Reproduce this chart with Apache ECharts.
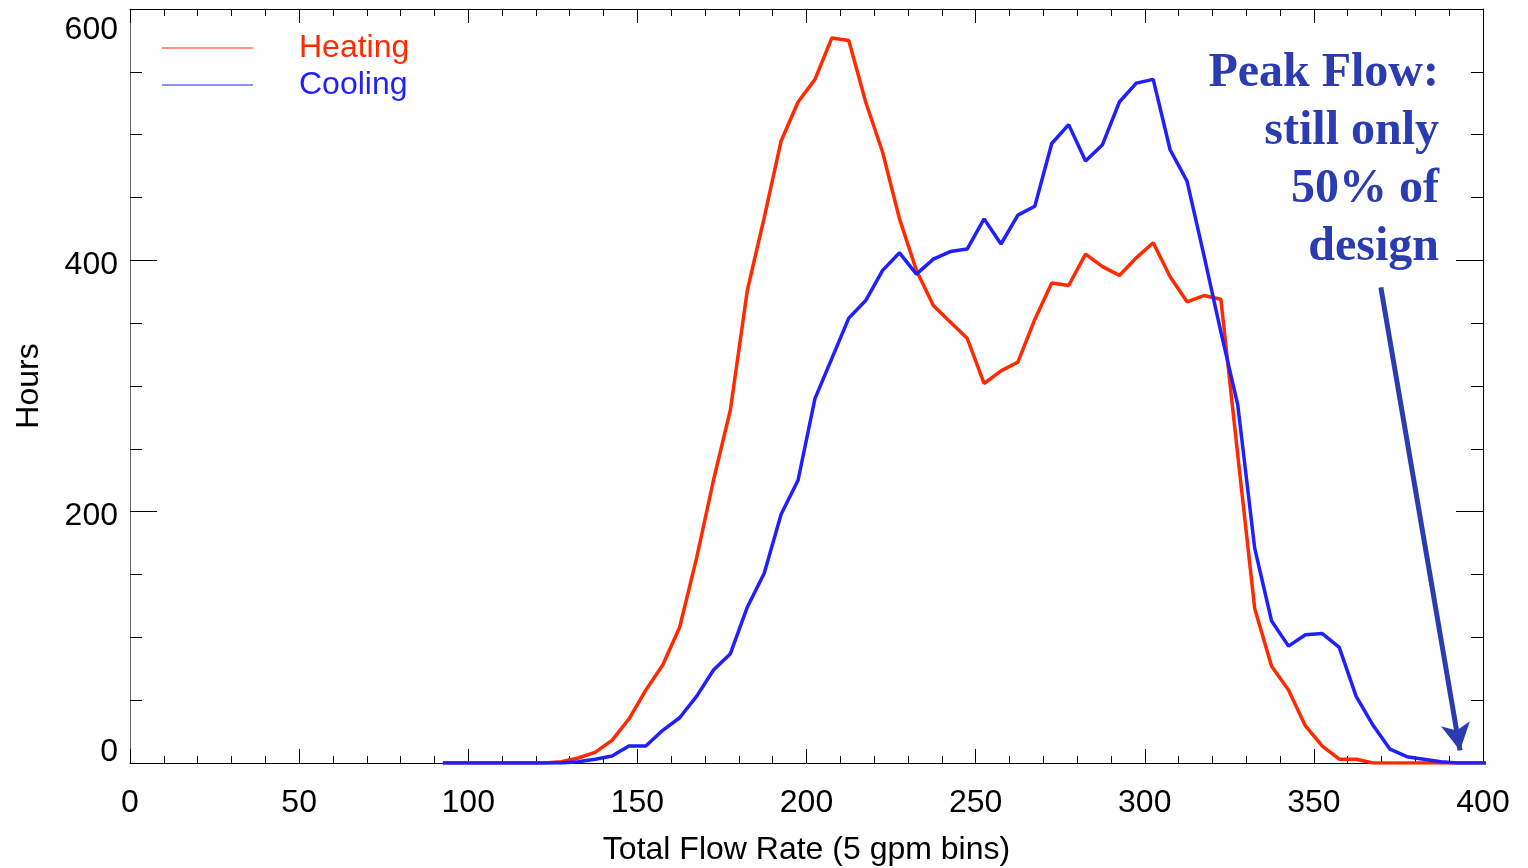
<!DOCTYPE html>
<html>
<head>
<meta charset="utf-8">
<script src="https://cdn.jsdelivr.net/npm/echarts@6/dist/echarts.min.js"></script>
<style>
html,body{margin:0;padding:0;background:#fff;}
#chart{width:1528px;height:868px;}
</style>
</head>
<body>
<div id="chart"></div>
<script>
// ---- Data ----
var flowBins = [92.5,97.5,102.5,107.5,112.5,117.5,122.5,127.5,132.5,137.5,142.5,147.5,152.5,157.5,162.5,167.5,172.5,177.5,182.5,187.5,192.5,197.5,202.5,207.5,212.5,217.5,222.5,227.5,232.5,237.5,242.5,247.5,252.5,257.5,262.5,267.5,272.5,277.5,282.5,287.5,292.5,297.5,302.5,307.5,312.5,317.5,322.5,327.5,332.5,337.5,342.5,347.5,352.5,357.5,362.5,367.5,372.5,377.5,382.5,387.5,392.5,397.5,402.5];
var heatingHours = [0,0,0,0,0,0,0,1,4,8.5,18,35,58,78,108,163,225,281,376,434,495,526,544,577,575,526,486,433,392,364,351,338,302,312,319,353,382,380,405,395,388,402,414,387,367,372,369,245,123,77,58,29.5,13.5,3,3,0,0,0,0,0,0,0,0];
var coolingHours = [0,0,0,0,0,0,0,0,1,3,5.5,13.5,13.5,26,36,53,74,87,124,151,198,225,290,322,354,368,392,406,389,401,407,409,433,413,436,443,493,508,479,492,526,541,544,488,463,404,343,285,171,113,93,102,103,92,53,30,11,5,3,1,0,0,0];
var seriesNames = ['Heating', 'Cooling'];
var xTickLabels = ['0','50','100','150','200','250','300','350','400'];
var yTickLabels = ['0','200','400','600'];
var annotationLines = ['Peak Flow:', 'still only', '50% of', 'design'];
var arrowStart = [369.8, 378.5];
var arrowEnd = [393.2, 10];

var RED = '#ff2a00', BLUE = '#1f1fff', NAVY = '#2a3caf';

function pairs(xs, ys){ return xs.map(function(x,i){ return [x, ys[i]]; }); }

var chart = echarts.init(document.getElementById('chart'));
var font = 'Liberation Sans, Arial, sans-serif';
var axisCommon = {
  min: 0,
  axisLine: {show: true, onZero: false, lineStyle: {color: '#000', width: 1}},
  splitLine: {show: false}
};

var annotationGraphics = annotationLines.map(function(t, i){
  return {
    type: 'text', right: 89, top: 45 + 58 * i, z: 10,
    style: {
      text: t,
      font: 'bold 48px "Liberation Serif", "Times New Roman", serif',
      fill: NAVY, lineHeight: 58
    }
  };
});

chart.setOption({
  animation: false,
  backgroundColor: '#fff',
  grid: {left: 130, right: 45, top: 9, bottom: 105, containLabel: false, outerBoundsMode: 'none'},
  legend: {
    orient: 'vertical', left: 157, top: 27, itemWidth: 91, itemHeight: 14, itemGap: 5,
    icon: 'path://M0,7L91,7L91,8L0,8Z',
    data: [
      {name: seriesNames[0], textStyle: {color: RED}},
      {name: seriesNames[1], textStyle: {color: BLUE}}
    ],
    textStyle: {fontFamily: font, fontSize: 32, padding: [0,0,8,41]}
  },
  xAxis: [
    Object.assign({}, axisCommon, {
      type: 'value', max: 400, interval: 50, position: 'bottom',
      name: 'Total Flow Rate (5 gpm bins)', nameLocation: 'middle', nameGap: 71,
      nameTextStyle: {fontFamily: font, fontSize: 32, color: '#000'},
      axisTick: {show: true, inside: true, length: 14, lineStyle: {color: '#000'}},
      minorTick: {show: true, splitNumber: 5, length: 7, lineStyle: {color: '#000'}},
      axisLabel: {fontFamily: font, fontSize: 32, color: '#000', margin: 24,
        formatter: function(v){ return xTickLabels[Math.round(v/50)] || ''; }}
    }),
    Object.assign({}, axisCommon, {
      type: 'value', max: 400, interval: 50, position: 'top',
      axisTick: {show: true, inside: true, length: 14, lineStyle: {color: '#000'}},
      minorTick: {show: true, splitNumber: 5, length: 7, lineStyle: {color: '#000'}},
      axisLabel: {show: false}
    })
  ],
  yAxis: [
    Object.assign({}, axisCommon, {
      type: 'value', max: 600, interval: 200, position: 'left',
      name: 'Hours', nameLocation: 'middle', nameGap: 85, nameRotate: 90,
      nameTextStyle: {fontFamily: font, fontSize: 32, color: '#000'},
      axisLine: {show: true, onZero: false, lineStyle: {color: '#666', width: 1}},
      axisTick: {show: true, inside: true, length: 27, lineStyle: {color: '#000'}},
      minorTick: {show: true, splitNumber: 4, length: 12, lineStyle: {color: '#000'}},
      axisLabel: {fontFamily: font, fontSize: 32, color: '#000', margin: 12,
        formatter: function(v){
          var i = Math.round(v/200), s = yTickLabels[i] || '';
          if (i === 0) return '{lo|' + s + '}';
          if (i === yTickLabels.length - 1) return '{hi|' + s + '}';
          return '{mid|' + s + '}';
        },
        rich: {
          lo: {fontFamily: font, fontSize: 32, color: '#000', padding: [0,0,22,0]},
          mid: {fontFamily: font, fontSize: 32, color: '#000', padding: [10,0,0,0]},
          hi: {fontFamily: font, fontSize: 32, color: '#000', padding: [42,0,0,0]}
        }
      }
    }),
    Object.assign({}, axisCommon, {
      type: 'value', max: 600, interval: 200, position: 'right',
      axisTick: {show: true, inside: true, length: 27, lineStyle: {color: '#000'}},
      minorTick: {show: true, splitNumber: 4, length: 12, lineStyle: {color: '#000'}},
      axisLabel: {show: false}
    })
  ],
  series: [
    {
      name: seriesNames[0], type: 'line', xAxisIndex: 0, yAxisIndex: 0,
      data: pairs(flowBins, heatingHours), symbol: 'none', clip: true,
      lineStyle: {color: RED, width: 3.5}, itemStyle: {color: RED}, z: 3
    },
    {
      name: seriesNames[1], type: 'line', xAxisIndex: 0, yAxisIndex: 0,
      data: pairs(flowBins, coolingHours), symbol: 'none', clip: true,
      lineStyle: {color: BLUE, width: 3.5}, itemStyle: {color: BLUE}, z: 4,
      markLine: {
        silent: true, animation: false,
        symbol: ['none', 'arrow'], symbolSize: [0, 0],
        label: {show: false},
        lineStyle: {color: NAVY, width: 5, type: 'solid'},
        data: [[
          {coord: arrowStart, symbol: 'none'},
          {coord: arrowEnd, symbol: 'arrow', symbolSize: [22, 27]}
        ]]
      }
    }
  ],
  graphic: annotationGraphics
});
</script>
</body>
</html>
